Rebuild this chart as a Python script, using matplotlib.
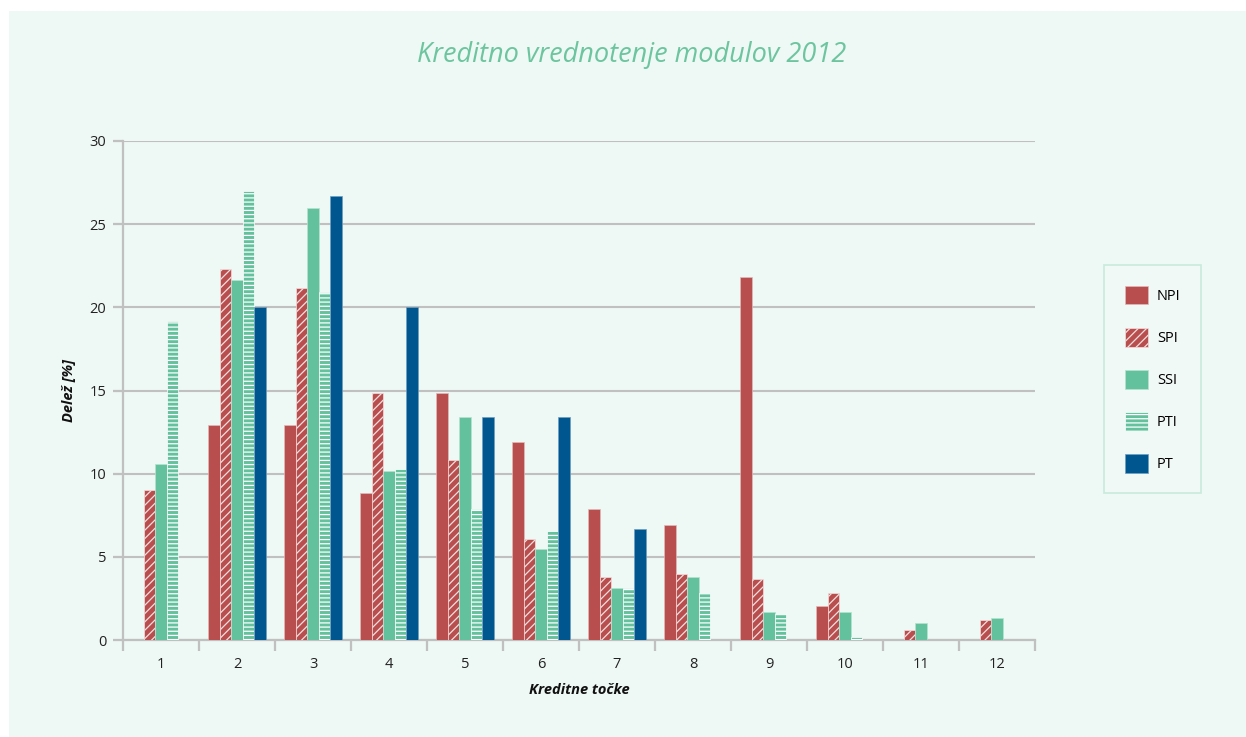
import matplotlib.pyplot as plt
import matplotlib.patches as mpatches
import numpy as np

plt.rcParams['font.family'] = ['Open Sans', 'DejaVu Sans']
plt.rcParams['hatch.linewidth'] = 0.9

kategorije = ['1', '2', '3', '4', '5', '6', '7', '8', '9', '10', '11', '12']
npi = [0, 12.9, 12.9, 8.85, 14.85, 11.9, 7.85, 6.9, 21.8, 2.05, 0, 0]
spi = [9.0, 22.3, 21.15, 14.85, 10.8, 6.05, 3.8, 3.95, 3.65, 2.85, 0.6, 1.2]
ssi = [10.6, 21.65, 26.0, 10.15, 13.4, 5.45, 3.15, 3.8, 1.7, 1.7, 1.05, 1.35]
pti = [19.2, 27.0, 20.95, 10.3, 7.9, 6.55, 3.15, 2.85, 1.55, 0.2, 0, 0]
pt = [0, 20.0, 26.7, 20.0, 13.4, 13.4, 6.7, 0, 0, 0, 0, 0]

serije = ['NPI', 'SPI', 'SSI', 'PTI', 'PT']
rdeca = '#b84f4e'
zelena = '#64c19d'
modra = '#00568f'
ozadje = '#eef8f4'
mreza = '#c0c0c0'

fig = plt.figure(figsize=(12.46, 7.37), dpi=100)
fig.patch.set_facecolor('white')
fig.patches.append(mpatches.Rectangle((9 / 1246, 0), 1, 1 - 11 / 737,
                                      transform=fig.transFigure,
                                      facecolor=ozadje, edgecolor='none', zorder=-5))

ax = fig.add_axes([123 / 1246, 1 - 640 / 737, 912 / 1246, 499 / 737])
ax.set_facecolor('none')

x = np.arange(len(kategorije))
w = 0.152
slogi = [
    (npi, dict(color=rdeca, edgecolor='#e3b9b8', linewidth=0.5)),
    (spi, dict(facecolor=rdeca, edgecolor='#f3dede', linewidth=0.5, hatch='////')),
    (ssi, dict(color=zelena, edgecolor='#b5e3d0', linewidth=0.5)),
    (pti, dict(facecolor=zelena, edgecolor='#ffffff', linewidth=0.5, hatch='----')),
    (pt, dict(color=modra, edgecolor='#6f9fc0', linewidth=0.5)),
]
for i, (vals, kw) in enumerate(slogi):
    ax.bar(x + (i - 2) * w, vals, w, label=serije[i], zorder=3, **kw)

ax.set_xlim(-0.5, len(kategorije) - 0.5)
ax.set_ylim(0, 30)
ax.set_yticks([0, 5, 10, 15, 20, 25, 30])
ax.set_xticks(x)
ax.set_xticklabels(kategorije)
ax.set_xticks(np.arange(-0.5, len(kategorije)), minor=True)
ax.tick_params(axis='x', which='major', length=0, pad=12, labelsize=10.5, colors='#222222')
ax.tick_params(axis='x', which='minor', length=8, width=1.6, color=mreza)
ax.tick_params(axis='y', length=7, width=1.6, color=mreza, labelsize=10.5,
               labelcolor='#222222', pad=5)
ax.grid(axis='y', color=mreza, linewidth=1.5, zorder=0)
for s in ['top', 'right']:
    ax.spines[s].set_visible(False)
ax.spines['left'].set_color(mreza)
ax.spines['left'].set_linewidth(1.6)
ax.spines['bottom'].set_color(mreza)
ax.spines['bottom'].set_linewidth(1.6)

ax.set_xlabel('Kreditne točke', fontsize=10.5, fontweight='bold', style='italic',
              color='#111111', labelpad=8)
ax.set_ylabel('Delež [%]', fontsize=10.5, fontweight='bold', style='italic',
              color='#111111', labelpad=10)

fig.text(632 / 1246, 1 - 55 / 737, 'Kreditno vrednotenje modulov 2012',
         ha='center', va='center', fontsize=19.5, style='italic', color='#6cc59f')

leg = ax.legend(loc='upper left', bbox_to_anchor=(1104 / 1246, 1 - 265 / 737),
                bbox_transform=fig.transFigure, fontsize=10.5, frameon=True,
                fancybox=False, handlelength=1.6, handleheight=1.6,
                labelspacing=1.6, borderpad=1.42, handletextpad=0.6,
                borderaxespad=0)
leg.get_frame().set_edgecolor('#bfe6d7')
leg.get_frame().set_facecolor('#f3faf7')
leg.get_frame().set_linewidth(1.2)

fig.savefig('out.png', dpi=100, facecolor=fig.get_facecolor())
